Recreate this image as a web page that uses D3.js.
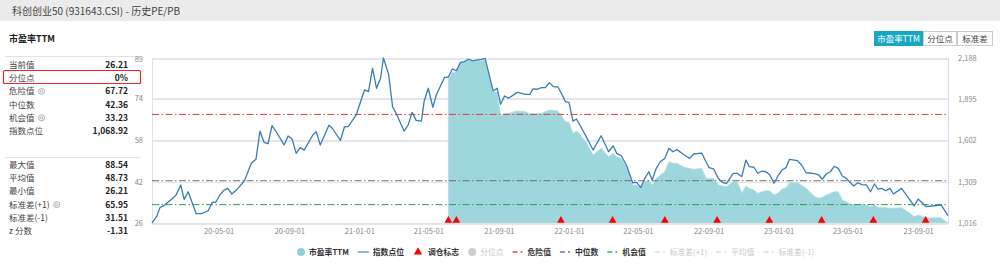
<!DOCTYPE html>
<html>
<head>
<meta charset="utf-8">
<script src="https://cdn.jsdelivr.net/npm/d3@7"></script>
<style>
body { margin: 0; background: #fff; }
svg text { font-family: "Noto Sans CJK SC", "Noto Sans", sans-serif; }
</style>
</head>
<body>
<script>
// ---- Daten ----
var pageTitle = "科创创业50 (931643.CSI) - 历史PE/PB";
var chartTitle = "市盈率TTM";
var buttons = ["市盈率TTM", "分位点", "标准差"];

var statLabelsTop = ["当前值", "分位点", "危险值", "中位数", "机会值", "指数点位"];
var statValuesTop = ["26.21", "0%", "67.72", "42.36", "33.23", "1,068.92"];
var statLabelsBottom = ["最大值", "平均值", "最小值", "标准差(+1)", "标准差(-1)", "z 分数"];
var statValuesBottom = ["88.54", "48.73", "26.21", "65.95", "31.51", "-1.31"];

var peTicks = [26, 42, 58, 74, 89];
var indexTicks = [1016, 1309, 1602, 1895, 2188];
var dateTicks = ["2020-05-01", "2020-09-01", "2021-01-01", "2021-05-01", "2021-09-01", "2022-01-01",
  "2022-05-01", "2022-09-01", "2023-01-01", "2023-05-01", "2023-09-01"];

var dangerValue = 67.72, medianValue = 42.36, chanceValue = 33.23;

// Indexpunkte (rechte Achse)
var indexSeries = [
  ["2020-01-06",1016],["2020-01-14",1061],["2020-01-20",1127],["2020-01-26",1137],["2020-02-12",1196],
  ["2020-02-17",1215],["2020-02-25",1286],["2020-03-02",1184],["2020-03-09",1238],["2020-03-23",1082],
  ["2020-04-01",1082],["2020-04-13",1103],["2020-04-20",1163],["2020-04-26",1163],["2020-05-03",1215],
  ["2020-05-10",1248],["2020-05-17",1262],["2020-05-24",1222],["2020-06-01",1250],["2020-06-15",1316],
  ["2020-06-27",1440],["2020-07-05",1468],["2020-07-12",1669],["2020-07-19",1589],["2020-07-26",1579],
  ["2020-08-02",1707],["2020-08-10",1660],["2020-08-23",1570],["2020-08-30",1634],["2020-09-06",1613],
  ["2020-09-13",1511],["2020-09-20",1551],["2020-09-27",1534],["2020-10-12",1641],["2020-10-18",1665],
  ["2020-10-25",1570],["2020-11-09",1710],["2020-11-15",1689],["2020-11-29",1603],["2020-12-06",1698],
  ["2020-12-13",1703],["2020-12-27",1788],["2021-01-10",1961],["2021-01-17",1949],["2021-01-24",2115],
  ["2021-01-31",1973],["2021-02-07",2044],["2021-02-12",2188],["2021-02-21",2072],["2021-02-28",1840],
  ["2021-03-06",1795],["2021-03-20",1669],["2021-03-27",1712],["2021-04-03",1802],["2021-04-10",1745],
  ["2021-04-19",1740],["2021-04-24",1883],["2021-05-01",1973],["2021-05-09",1838],["2021-05-15",1925],
  ["2021-05-29",2048],["2021-06-05",2053],["2021-06-12",2110],["2021-06-19",2098],["2021-06-26",2157],
  ["2021-07-03",2162],["2021-07-10",2179],["2021-07-17",2167],["2021-08-01",2179],["2021-08-08",2186],
  ["2021-08-22",1954],["2021-08-29",1973],["2021-09-04",1859],["2021-09-11",1918],["2021-09-18",1902],
  ["2021-10-03",1944],["2021-10-18",1930],["2021-10-25",1930],["2021-10-30",1968],["2021-11-07",1966],
  ["2021-11-14",1977],["2021-11-21",1977],["2021-11-28",2013],["2021-12-05",1984],["2021-12-13",1982],
  ["2021-12-26",1878],["2022-01-01",1873],["2022-01-08",1740],["2022-01-14",1755],["2022-01-20",1712],
  ["2022-02-01",1622],["2022-02-12",1534],["2022-02-26",1636],["2022-03-11",1522],["2022-03-19",1565],
  ["2022-03-25",1511],["2022-04-02",1494],["2022-04-11",1428],["2022-04-22",1302],["2022-04-29",1305],
  ["2022-05-06",1267],["2022-05-13",1333],["2022-05-20",1380],["2022-05-26",1321],["2022-06-02",1404],
  ["2022-06-09",1451],["2022-06-17",1475],["2022-06-24",1547],["2022-07-01",1522],["2022-07-08",1537],
  ["2022-07-21",1499],["2022-07-30",1475],["2022-08-06",1506],["2022-08-20",1513],["2022-09-02",1409],
  ["2022-09-10",1400],["2022-09-18",1333],["2022-09-25",1305],["2022-10-02",1295],["2022-10-14",1369],
  ["2022-10-21",1369],["2022-10-29",1345],["2022-11-05",1463],["2022-11-11",1416],["2022-11-19",1412],
  ["2022-11-26",1369],["2022-12-03",1385],["2022-12-10",1380],["2022-12-17",1357],["2022-12-24",1298],
  ["2022-12-31",1350],["2023-01-07",1392],["2023-01-14",1409],["2023-01-20",1468],["2023-02-03",1459],
  ["2023-02-10",1428],["2023-02-18",1373],["2023-03-05",1366],["2023-03-12",1357],["2023-03-18",1326],
  ["2023-03-25",1364],["2023-04-01",1380],["2023-04-08",1419],["2023-04-15",1404],["2023-04-22",1350],
  ["2023-04-29",1333],["2023-05-06",1302],["2023-05-12",1279],["2023-05-19",1302],["2023-05-26",1288],
  ["2023-06-03",1286],["2023-06-10",1238],["2023-06-17",1293],["2023-06-23",1257],["2023-06-29",1262],
  ["2023-07-07",1245],["2023-07-14",1262],["2023-07-20",1222],["2023-08-03",1262],["2023-08-18",1179],
  ["2023-08-25",1137],["2023-09-01",1186],["2023-09-15",1132],["2023-10-11",1144],["2023-10-23",1068.92]
];

// PE TTM (linke Achse)
var peSeries = [
  ["2021-06-05",81.15],["2021-06-12",83.83],["2021-06-19",84.06],["2021-06-26",87.65],["2021-07-03",87.88],
  ["2021-07-10",88.4],["2021-07-17",88.0],["2021-08-01",88.3],["2021-08-08",88.54],["2021-08-22",76.41],
  ["2021-08-29",76.18],["2021-09-04",67.12],["2021-09-11",68.15],["2021-09-18",68.15],["2021-10-03",69.03],
  ["2021-10-18",68.76],["2021-10-25",67.88],["2021-11-07",68.15],["2021-11-14",68.15],["2021-11-28",69.41],
  ["2021-12-13",69.03],["2021-12-26",64.94],["2022-01-01",64.7],["2022-01-08",60.5],["2022-01-14",61.38],
  ["2022-01-20",60.12],["2022-02-01",56.68],["2022-02-12",52.2],["2022-02-26",54.76],["2022-03-11",51.55],
  ["2022-03-19",52.85],["2022-03-25",51.55],["2022-04-02",50.94],["2022-04-11",47.73],["2022-04-22",40.73],
  ["2022-04-29",40.73],["2022-05-06",39.47],["2022-05-13",42.0],["2022-05-20",42.64],["2022-05-26",40.73],
  ["2022-06-02",43.29],["2022-06-17",45.82],["2022-06-24",49.64],["2022-07-01",49.03],["2022-07-08",49.03],
  ["2022-07-21",47.5],["2022-08-06",46.74],["2022-08-20",47.12],["2022-08-28",43.29],["2022-09-10",43.29],
  ["2022-09-18",40.73],["2022-10-02",40.08],["2022-10-14",42.0],["2022-10-21",42.0],["2022-10-29",37.56],
  ["2022-11-05",40.35],["2022-11-11",39.47],["2022-11-19",38.82],["2022-11-26",37.56],["2022-12-03",38.17],
  ["2022-12-10",38.55],["2022-12-17",38.44],["2022-12-24",36.91],["2022-12-31",37.56],["2023-01-07",39.2],
  ["2023-01-14",39.7],["2023-01-20",41.61],["2023-02-03",41.61],["2023-02-10",40.73],["2023-02-18",39.47],
  ["2023-03-05",36.26],["2023-03-12",35.65],["2023-03-18",36.03],["2023-03-25",36.91],["2023-04-08",38.17],
  ["2023-04-15",38.17],["2023-04-22",35.0],["2023-04-29",34.35],["2023-05-06",33.35],["2023-05-19",33.35],
  ["2023-06-03",33.08],["2023-06-10",32.43],["2023-06-17",33.08],["2023-06-23",32.2],["2023-07-07",32.05],
  ["2023-07-20",31.82],["2023-08-03",32.05],["2023-08-18",29.91],["2023-08-25",28.61],["2023-09-01",29.26],
  ["2023-09-15",28.23],["2023-10-11",28.23],["2023-10-23",26.21]
];

// Rebalancing-Termine (调仓标志)
var rebalanceDates = ["2021-06-05", "2021-06-19", "2021-12-18", "2022-03-18", "2022-06-17",
  "2022-09-16", "2022-12-16", "2023-03-17", "2023-06-15", "2023-09-14"];

var legendItems = [
  {name: "市盈率TTM", type: "dot", color: "#8fd0d9", on: true},
  {name: "指数点位", type: "line", color: "#6aa7cf", on: true},
  {name: "调仓标志", type: "tri", color: "#f00", on: true},
  {name: "分位点", type: "dot", color: "#ccc", on: false},
  {name: "危险值", type: "dash", color: "#d9534f", on: true},
  {name: "中位数", type: "dash", color: "#777", on: true},
  {name: "机会值", type: "dash", color: "#3cb371", on: true},
  {name: "标准差(+1)", type: "dash", color: "#ddd", on: false},
  {name: "平均值", type: "dash", color: "#ddd", on: false},
  {name: "标准差(-1)", type: "dash", color: "#ddd", on: false}
];

// ---- Layout ----
var W = 1000, H = 267;
var plot = {left: 152, right: 948, top: 58, bottom: 223};
var parse = d3.timeParse("%Y-%m-%d");

var svg = d3.select("body").append("svg")
  .attr("width", W).attr("height", H);

// Kopfzeile
svg.append("rect").attr("width", W).attr("height", 21).attr("fill", "#ebebeb");
svg.append("text").attr("x", 12).attr("y", 14.5)
  .attr("font-size", 10).attr("fill", "#444").text(pageTitle);

svg.append("text").attr("x", 9).attr("y", 42)
  .attr("font-size", 9).attr("font-weight", "bold").attr("fill", "#222").text(chartTitle);

// Buttons oben rechts
var btnX = [874, 923, 957, 993];
buttons.forEach(function (b, i) {
  svg.append("rect")
    .attr("x", btnX[i] + 0.5).attr("y", 31.5)
    .attr("width", btnX[i + 1] - btnX[i] - 1).attr("height", 14)
    .attr("fill", i === 0 ? "#17a8c2" : "#fff")
    .attr("stroke", i === 0 ? "#17a8c2" : "#ccc");
  svg.append("text")
    .attr("x", (btnX[i] + btnX[i + 1]) / 2).attr("y", 41.5)
    .attr("text-anchor", "middle").attr("font-size", 8.5)
    .attr("fill", i === 0 ? "#fff" : "#444").text(b);
});

// Kennzahlen links
function statBlock(labels, values, y0, gearAt) {
  labels.forEach(function (l, i) {
    var y = y0 + i * 13.2;
    var t = svg.append("text").attr("x", 9).attr("y", y)
      .attr("font-size", 8.5).attr("fill", "#444").text(l);
    svg.append("text").attr("x", 128).attr("y", y).attr("text-anchor", "end")
      .attr("font-size", 8.5).attr("font-weight", "bold").attr("fill", "#222").text(values[i]);
    if (gearAt.indexOf(i) >= 0) {
      var gx = 9 + t.node().getComputedTextLength() + 7;
      svg.append("circle").attr("cx", gx).attr("cy", y - 3).attr("r", 3)
        .attr("fill", "none").attr("stroke", "#999").attr("stroke-width", 0.8);
      svg.append("circle").attr("cx", gx).attr("cy", y - 3).attr("r", 1.2)
        .attr("fill", "none").attr("stroke", "#999").attr("stroke-width", 0.7);
    }
  });
}
svg.append("line").attr("x1", 5).attr("x2", 140).attr("y1", 56.5).attr("y2", 56.5).attr("stroke", "#e3e3e3");
svg.append("line").attr("x1", 5).attr("x2", 140).attr("y1", 157.5).attr("y2", 157.5).attr("stroke", "#e3e3e3");
statBlock(statLabelsTop, statValuesTop, 68, [2, 4]);
statBlock(statLabelsBottom, statValuesBottom, 168, [3]);
svg.append("rect").attr("x", 3.5).attr("y", 70.5).attr("width", 137).attr("height", 13)
  .attr("fill", "none").attr("stroke", "#e8262a").attr("stroke-width", 1.2).attr("rx", 1);

// Skalen
var x = d3.scaleTime()
  .domain([parse(indexSeries[0][0]), parse(indexSeries[indexSeries.length - 1][0])])
  .range([plot.left, plot.right]);
var yPE = d3.scaleLinear().domain([26.2, 89.3]).range([plot.bottom, plot.top]);
var yIdx = d3.scaleLinear().domain([1016, 2188]).range([plot.bottom, plot.top]);

// Gitter (beide Achsen)
var g = svg.append("g");
g.selectAll(".gpe").data(peTicks).enter().append("line")
  .attr("x1", plot.left).attr("x2", plot.right)
  .attr("y1", function (d) { return Math.round(yPE(d)) + 0.5; })
  .attr("y2", function (d) { return Math.round(yPE(d)) + 0.5; })
  .attr("stroke", "#e6e6e6");
g.selectAll(".gidx").data(indexTicks).enter().append("line")
  .attr("x1", plot.left).attr("x2", plot.right)
  .attr("y1", function (d) { return Math.round(yIdx(d)) + 0.5; })
  .attr("y2", function (d) { return Math.round(yIdx(d)) + 0.5; })
  .attr("stroke", "#e6e6e6");

// Fläche PE
var area = d3.area()
  .x(function (d) { return x(parse(d[0])); })
  .y0(plot.bottom)
  .y1(function (d) { return yPE(d[1]); });
svg.append("path").datum(peSeries).attr("d", area)
  .attr("fill", "#9dd6dd").attr("stroke", "#b4e1e6").attr("stroke-width", 0.8);

// Achsen
var axL = svg.append("g").attr("transform", "translate(" + plot.left + ",0)")
  .call(d3.axisLeft(yPE).tickValues(peTicks).tickSize(0).tickPadding(9).tickFormat(d3.format("d")));
var axR = svg.append("g").attr("transform", "translate(" + plot.right + ",0)")
  .call(d3.axisRight(yIdx).tickValues(indexTicks).tickSize(0).tickPadding(10).tickFormat(d3.format(",")));
var axB = svg.append("g").attr("transform", "translate(0," + plot.bottom + ")")
  .call(d3.axisBottom(x).tickValues(dateTicks.map(parse)).tickSize(0).tickPadding(6)
    .tickFormat(d3.timeFormat("%y-%m-%d")));
[axL, axR, axB].forEach(function (a) {
  a.selectAll("text").attr("font-size", 7.5).attr("fill", "#888");
});
axL.select(".domain").attr("stroke", "#e2e2e2");
axR.select(".domain").attr("stroke", "#d3dde9");
axB.select(".domain").attr("stroke", "#e2e2e2");

// Referenzlinien
[[dangerValue, "#d9413f"], [medianValue, "#6e6e6e"], [chanceValue, "#2e9e5b"]].forEach(function (r) {
  svg.append("line").attr("x1", plot.left).attr("x2", plot.right)
    .attr("y1", yPE(r[0])).attr("y2", yPE(r[0]))
    .attr("stroke", r[1]).attr("stroke-width", 1)
    .attr("stroke-dasharray", "7,2.5,1.5,2.5");
});

// Indexlinie
var line = d3.line()
  .x(function (d) { return x(parse(d[0])); })
  .y(function (d) { return yIdx(d[1]); });
svg.append("path").datum(indexSeries).attr("d", line)
  .attr("fill", "none").attr("stroke", "#3b7db3").attr("stroke-width", 1.3)
  .attr("stroke-linejoin", "round");

// Dreiecke
svg.selectAll(".tri").data(rebalanceDates).enter().append("path")
  .attr("d", d3.symbol(d3.symbolTriangle, 26))
  .attr("transform", function (d) { return "translate(" + x(parse(d)) + "," + (plot.bottom - 2.5) + ")"; })
  .attr("fill", "#f00");

// Legende
var lg = svg.append("g").attr("transform", "translate(0,252)");
var cx = 297;
legendItems.forEach(function (it) {
  var s = lg.append("g").attr("transform", "translate(" + cx + ",0)");
  if (it.type === "dot") {
    s.append("circle").attr("cx", 4).attr("cy", 0).attr("r", 4).attr("fill", it.color);
  } else if (it.type === "line") {
    s.append("line").attr("x1", 0).attr("x2", 11).attr("y1", 0).attr("y2", 0)
      .attr("stroke", it.color).attr("stroke-width", 1.6);
  } else if (it.type === "tri") {
    s.append("path").attr("d", d3.symbol(d3.symbolTriangle, 30)).attr("transform", "translate(5,0)")
      .attr("fill", it.color);
  } else {
    s.append("line").attr("x1", 0).attr("x2", 11).attr("y1", 0).attr("y2", 0)
      .attr("stroke", it.color).attr("stroke-width", 1.4).attr("stroke-dasharray", "5,3,2,3");
  }
  var symW = it.type === "dot" ? 8 : 11;
  var t = s.append("text").attr("x", symW + 4).attr("y", 3)
    .attr("font-size", 7.8).attr("font-weight", it.on ? "bold" : "normal")
    .attr("fill", it.on ? "#333" : "#c8c8c8").text(it.name);
  cx += symW + 4 + t.node().getComputedTextLength() + 9;
});
</script>
</body>
</html>
